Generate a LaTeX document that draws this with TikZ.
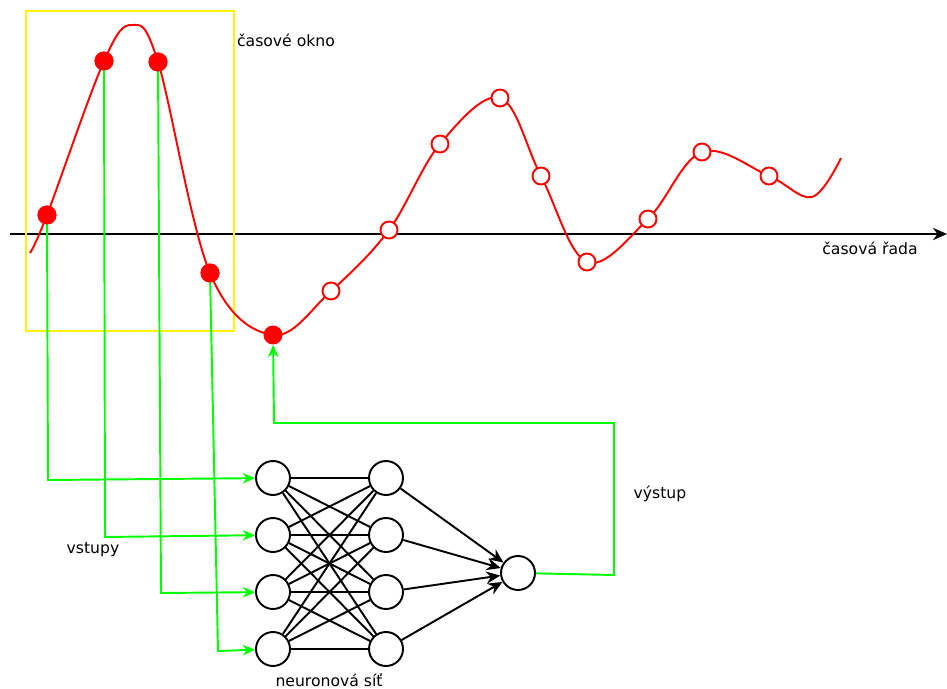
\documentclass[tikz,border=0pt]{standalone}
\usepackage{fontspec}
\setmainfont{DejaVu Sans}
\usetikzlibrary{arrows.meta}
\begin{document}
\begin{tikzpicture}[x=0.02cm, y=-0.02cm]
\tikzset{neuron/.style={draw, circle, line width=1.1pt, minimum size=0.68cm, inner sep=0pt},
  plnbod/.style={circle, fill=red, minimum size=0.38cm, inner sep=0pt},
  prazbod/.style={circle, draw=red, fill=white, line width=1.1pt, minimum size=0.34cm, inner sep=0pt},
  zelena/.style={draw=green, line width=1.1pt, -{Stealth[length=7pt, width=6pt]}},
  popis/.style={font=\fontsize{8.9}{10}\selectfont}}
\useasboundingbox (0,0) rectangle (947,689);
% casova rada
\draw[line width=1.1pt, -{Stealth[length=8pt, width=7pt]}] (10,234) -- (947,234);
\draw[yellow, line width=1.1pt] (26,11) rectangle (234,331);
\draw[red, line width=1.1pt] plot[smooth, tension=0.6] coordinates {(30,253) (47,215) (104,61)
  (132,25) (158,62) (210,273) (273,335) (331,291) (389,230) (440,144)
  (500,98) (541,176) (587,262) (648,219) (702,152) (769,176) (812,197) (841,158)};
\node[plnbod] (p1) at (47,215) {};
\node[plnbod] (p2) at (104,61) {};
\node[plnbod] (p3) at (158,62) {};
\node[plnbod] (p4) at (210,273) {};
\node[plnbod] (p5) at (273,335) {};
\node[prazbod] (p6) at (331,291) {};
\node[prazbod] (p7) at (389,230) {};
\node[prazbod] (p8) at (440,144) {};
\node[prazbod] (p9) at (500,98) {};
\node[prazbod] (p10) at (541,176) {};
\node[prazbod] (p11) at (587,262) {};
\node[prazbod] (p12) at (648,219) {};
\node[prazbod] (p13) at (702,152) {};
\node[prazbod] (p14) at (769,176) {};
\node[popis] (okno) at (286,40) {časové okno};
\node[popis] (rada) at (870,248) {časová řada};
% neuronova sit
\node[neuron] (I1) at (273,478) {};
\node[neuron] (I2) at (273,535) {};
\node[neuron] (I3) at (273,592) {};
\node[neuron] (I4) at (273,649) {};
\node[neuron] (H1) at (386,478) {};
\node[neuron] (H2) at (386,535) {};
\node[neuron] (H3) at (386,592) {};
\node[neuron] (H4) at (386,649) {};
\node[neuron] (O) at (518,573) {};
\foreach \i in {1,...,4}
  \foreach \j in {1,...,4}
    \draw[line width=1.1pt] (I\i) -- (H\j);
\foreach \j in {1,...,4}
  \draw[line width=1.1pt, -{Stealth[length=8pt, width=7pt]}] (H\j) -- (O);
\node[popis] (sit) at (329,680) {neuronová síť};
\node[popis] (vstupy) at (93,550) {vstupy};
\node[popis] (vystup) at (660,494) {výstup};
% vstupy a vystup
\coordinate (k1) at (48,480);
\coordinate (k2) at (105,537);
\coordinate (k3) at (161,593);
\coordinate (k4) at (218,651);
\draw[zelena] (p1.center) -- (k1) -- (I1);
\draw[zelena] (p2.center) -- (k2) -- (I2);
\draw[zelena] (p3.center) -- (k3) -- (I3);
\draw[zelena] (p4.center) -- (k4) -- (I4);
\coordinate (v1) at (614,575);
\coordinate (v2) at (614,423);
\coordinate (v3) at (274,423);
\draw[zelena] (O) -- (v1) -- (v2) -- (v3) -- (p5);
% body znovu nad carami
\foreach \b in {p1,p2,p3,p4}
  \fill[red] (\b) circle (0.19cm);
\end{tikzpicture}
\end{document}
